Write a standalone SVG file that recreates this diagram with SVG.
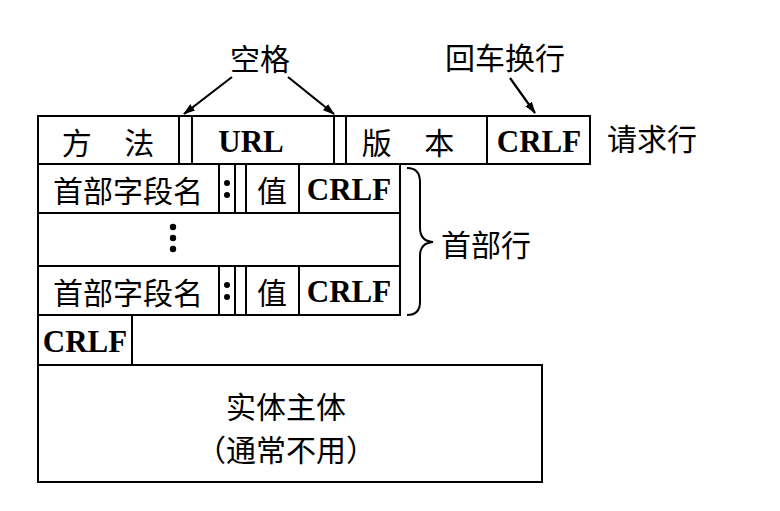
<svg xmlns="http://www.w3.org/2000/svg" width="780" height="511" viewBox="0 0 780 511">
<style>
.box{fill:none;stroke:#000;stroke-width:2}
.ln{stroke:#000;stroke-width:2;fill:none}
.cj{font-family:"Noto Sans CJK SC","Noto Sans CJK JP",sans-serif;font-size:30px;fill:#000;text-anchor:middle;dominant-baseline:central}
.lt{font-family:"Liberation Serif",serif;font-weight:bold;font-size:31px;fill:#000;text-anchor:middle;dominant-baseline:central}
.arr{stroke:#000;stroke-width:2.2;fill:none;marker-end:url(#ah)}
</style>
<defs>
<marker id="ah" viewBox="0 0 12 8" refX="11" refY="4" markerWidth="12" markerHeight="8" markerUnits="userSpaceOnUse" orient="auto">
<path d="M0,0 L12,4 L0,8 Z" fill="#000"/>
</marker>
</defs>
<rect width="780" height="511" fill="#fff"/>

<g id="request-line">
<rect class="box" x="38" y="116" width="552" height="48"/>
<line class="ln" x1="179" y1="116" x2="179" y2="164"/>
<line class="ln" x1="192" y1="116" x2="192" y2="164"/>
<line class="ln" x1="334" y1="116" x2="334" y2="164"/>
<line class="ln" x1="346" y1="116" x2="346" y2="164"/>
<line class="ln" x1="487" y1="116" x2="487" y2="164"/>
<text class="cj" x="108" y="141" word-spacing="26">方 法</text>
<text class="lt" x="251" y="141" font-size="30">URL</text>
<text class="cj" x="408" y="141" word-spacing="26">版 本</text>
<text class="lt" x="539" y="141">CRLF</text>
<text class="cj" x="652" y="137" font-size="32">请求行</text>
</g>

<g id="header-lines">
<rect class="box" x="38" y="164" width="362" height="151"/>
<line class="ln" x1="38" y1="213" x2="400" y2="213"/>
<line class="ln" x1="38" y1="266" x2="400" y2="266"/>
<line class="ln" x1="219" y1="164" x2="219" y2="213"/>
<line class="ln" x1="235" y1="164" x2="235" y2="213"/>
<line class="ln" x1="246" y1="164" x2="246" y2="213"/>
<line class="ln" x1="299" y1="164" x2="299" y2="213"/>
<line class="ln" x1="219" y1="266" x2="219" y2="315"/>
<line class="ln" x1="235" y1="266" x2="235" y2="315"/>
<line class="ln" x1="246" y1="266" x2="246" y2="315"/>
<line class="ln" x1="299" y1="266" x2="299" y2="315"/>
<text class="cj" x="128" y="189" font-size="31">首部字段名</text>
<circle cx="227" cy="183" r="3"/><circle cx="227" cy="195" r="3"/>
<text class="cj" x="272" y="189">值</text>
<text class="lt" x="349" y="189">CRLF</text>
<circle cx="173" cy="227" r="3.2"/><circle cx="173" cy="238" r="3.2"/><circle cx="173" cy="249" r="3.2"/>
<text class="cj" x="128" y="291" font-size="31">首部字段名</text>
<circle cx="227" cy="285" r="3"/><circle cx="227" cy="297" r="3"/>
<text class="cj" x="272" y="291">值</text>
<text class="lt" x="349" y="291">CRLF</text>
<path class="ln" d="M407,168 Q420,168 420,182 L420,228 Q420,241 433,242 Q420,243 420,256 L420,302 Q420,315 407,315"/>
<text class="cj" x="486" y="243" font-size="31">首部行</text>
</g>

<g id="blank-crlf">
<rect class="box" x="38" y="315" width="94" height="50"/>
<text class="lt" x="85" y="341">CRLF</text>
</g>

<g id="entity-body">
<rect class="box" x="38" y="365" width="504" height="117"/>
<text class="cj" x="286" y="405" font-size="29">实体主体</text>
<text class="cj" x="286" y="448" font-size="29">（通常不用）</text>
</g>

<g id="labels">
<text class="cj" x="260" y="57" font-size="32">空格</text>
<text class="cj" x="505" y="56" font-size="31">回车换行</text>
</g>

<g id="connectors">
<line class="arr" x1="232" y1="77" x2="184" y2="114"/>
<line class="arr" x1="288" y1="77" x2="334" y2="114"/>
<line class="arr" x1="510" y1="78" x2="535" y2="113"/>
</g>
</svg>
